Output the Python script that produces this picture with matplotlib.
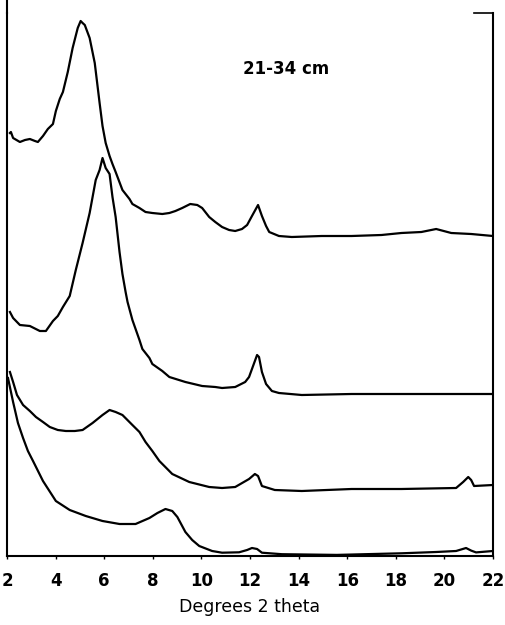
import matplotlib
matplotlib.use('Agg')
import matplotlib.pyplot as plt

# XRD traces, 21-34 cm; heights in arbitrary units above the baseline
x1 = [2.12, 2.16, 2.25, 2.53, 2.74, 2.94, 3.15, 3.27, 3.48, 3.68, 3.89, 4.01, 4.17,
      4.30, 4.50, 4.70, 4.91, 5.03, 5.11, 5.20, 5.40, 5.61, 5.81, 5.93, 6.06, 6.22,
      6.34, 6.47, 6.75, 7.04, 7.16, 7.45, 7.70, 7.98, 8.39, 8.68, 8.93, 9.21, 9.54,
      9.83, 10.03, 10.32, 10.57, 10.85, 11.14, 11.39, 11.67, 11.88, 12.08, 12.33,
      12.49, 12.66, 12.79, 13.19, 13.72, 14.95, 16.18, 17.41, 18.23, 19.05, 19.66,
      20.28, 21.10, 22.0]
y1 = [423, 424, 418, 414, 416, 417, 415, 414, 420, 427, 432, 445, 457,
      464, 484, 508, 528, 535, 533, 531, 518, 493, 453, 430, 413, 400,
      392, 384, 366, 357, 352, 348, 344, 343, 342, 343, 345, 348, 352,
      351, 348, 339, 334, 329, 326, 325, 327, 331, 340, 351,
      340, 330, 324, 320, 319, 320, 320, 321, 323, 324, 327,
      323, 322, 320]

x2 = [2.12, 2.25, 2.53, 2.94, 3.35, 3.60, 3.89, 4.09, 4.30, 4.58, 4.83, 5.11, 5.40,
      5.65, 5.81, 5.93, 6.06, 6.22, 6.34, 6.47, 6.63, 6.75, 6.88, 6.96, 7.16, 7.45,
      7.57, 7.86, 7.98, 8.39, 8.68, 9.34, 10.03, 10.57, 10.85, 11.39, 11.80, 11.96,
      12.08, 12.29, 12.37, 12.49, 12.66, 12.90, 13.19, 14.13, 16.18, 18.23, 20.28, 22.0]
y2 = [244, 238, 231, 230, 225, 225, 235, 240, 249, 260, 286, 313, 343,
      376, 386, 398, 388, 382, 359, 339, 304, 282, 264, 254, 236, 216,
      207, 198, 192, 185, 179, 174, 170, 169, 168, 169, 174, 179,
      187, 201, 199, 184, 172, 165, 163, 161, 162, 162, 162, 162]

x3 = [2.12, 2.25, 2.41, 2.66, 2.94, 3.19, 3.48, 3.76, 4.09, 4.42, 4.79, 5.11, 5.52,
      5.93, 6.22, 6.47, 6.75, 7.16, 7.45, 7.70, 7.98, 8.27, 8.80, 9.50, 10.32, 10.85,
      11.39, 11.96, 12.20, 12.33, 12.49, 13.02, 14.13, 16.18, 18.23, 20.48, 20.77,
      20.98, 21.10, 21.22, 22.0]
y3 = [184, 174, 161, 151, 145, 139, 134, 129, 126, 125, 125, 126, 133,
      141, 146, 144, 141, 131, 124, 114, 105, 95, 82, 74, 69, 68,
      69, 77, 82, 80, 70, 66, 65, 67, 67, 68, 74,
      79, 76, 70, 71]

x4 = [2.04, 2.25, 2.45, 2.66, 2.86, 3.07, 3.48, 4.01, 4.58, 5.24, 5.93, 6.63, 7.29,
      7.86, 8.19, 8.52, 8.80, 9.01, 9.34, 9.62, 9.91, 10.44, 10.85, 11.55, 11.88,
      12.08, 12.29, 12.49, 13.31, 15.57, 18.23, 19.66, 20.48, 20.89, 21.10, 21.30, 22.0]
y4 = [178, 154, 133, 118, 105, 95, 75, 55, 46, 40, 35, 32, 32,
      38, 43, 47, 45, 39, 24, 16, 10, 5, 3.3, 3.7, 6,
      8, 7, 3.3, 1.8, 1.1, 2.7, 4, 5, 8, 5.4, 3.6, 5]

xticks = [2, 4, 6, 8, 10, 12, 14, 16, 18, 20, 22]

fig = plt.figure(figsize=(5.05, 6.25), dpi=100)
ax = fig.add_axes([0.0139, 0.1104, 0.9624, 0.8688])

for xs, ys in [(x1, y1), (x2, y2), (x3, y3), (x4, y4)]:
    ax.plot(xs, ys, color='black', lw=1.6, solid_joinstyle='round')

ax.set_xlim(2, 22)
ax.set_ylim(0, 543)
ax.set_xticks(xticks)
ax.set_xticklabels([str(t) for t in xticks], fontsize=12, fontweight='bold')
ax.tick_params(axis='x', direction='out', length=2.5, width=1, pad=9)
ax.set_yticks([])
ax.spines['top'].set_visible(False)
for s in ['left', 'right', 'bottom']:
    ax.spines[s].set_linewidth(1.5)

# left spine runs a bit higher, small cap at top of right spine
ax.plot([0, 0], [1.0, 1.025], color='black', lw=1.5, transform=ax.transAxes, clip_on=False)
ax.plot([0.96, 1.0], [1.0, 1.0], color='black', lw=1.2, transform=ax.transAxes, clip_on=False)

ax.text(13.5, 487, '21-34 cm', fontsize=12, fontweight='bold', ha='center', va='center')
ax.set_xlabel('Degrees 2 theta', fontsize=12.5, labelpad=6)

fig.savefig('out.png', dpi=100)
